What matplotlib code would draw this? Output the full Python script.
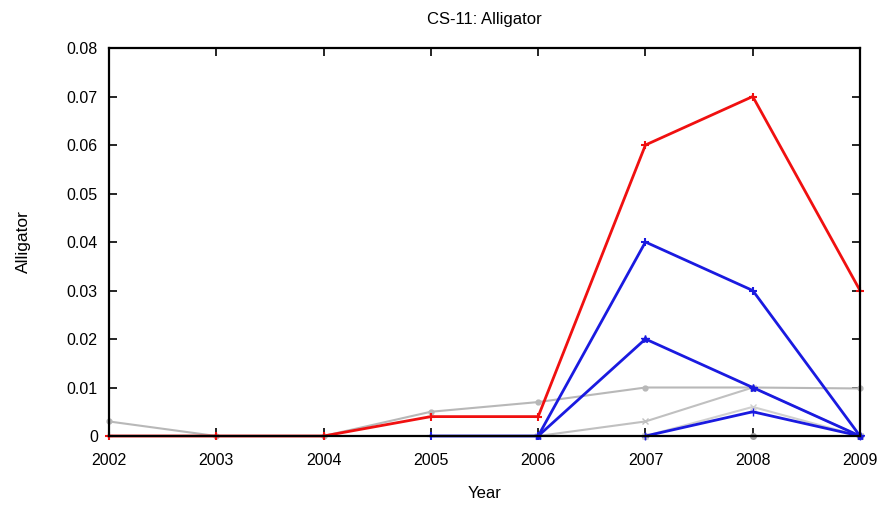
"""CS-11 Alligator by year"""
import numpy as np
import matplotlib
matplotlib.use('Agg')
import matplotlib.pyplot as plt
from matplotlib.ticker import FuncFormatter

plt.rcParams['font.family'] = ['Liberation Sans', 'DejaVu Sans']

years = [2002, 2003, 2004, 2005, 2006, 2007, 2008, 2009]
nan = np.nan

# red series
red = [0, 0, 0, 0.004, 0.004, 0.06, 0.07, 0.03]
# blue series
blue_a = [nan, nan, nan, 0, 0, 0.04, 0.03, 0]
blue_b = [nan, nan, nan, nan, 0, 0.02, 0.01, 0]
blue_c = [nan, nan, nan, nan, nan, 0, 0.005, 0]
# gray series
gray_a = [0.003, 0, 0, 0.005, 0.007, 0.010, 0.010, 0.0098]
gray_b = [nan, nan, nan, nan, 0, 0.003, 0.010, 0]
gray_c = [nan, nan, nan, nan, nan, 0, 0.006, 0]
gray_d = [nan, nan, nan, nan, nan, 0, 0, 0]

fig = plt.figure(figsize=(8.81, 5.09), dpi=100)
ax = fig.add_axes([0.1237, 0.1434, 0.8525, 0.7623])

ax.plot(years, gray_d, color='#a0a0a0', lw=1.2, marker='o', ms=4, clip_on=False)
ax.plot(years, gray_c, color='#d0d0d0', lw=1.5, marker='x', ms=5, clip_on=False)
ax.plot(years, gray_b, color='#c0c0c0', lw=1.5, marker='x', ms=5, clip_on=False)
ax.plot(years, gray_a, color='#b8b8b8', lw=1.5, marker='o', ms=3.5, clip_on=False)

ax.plot(years, blue_c, color='#1a1ae0', lw=2, marker='+', ms=6, clip_on=False)
ax.plot(years, blue_b, color='#1a1ae0', lw=2, marker='*', ms=6, clip_on=False)
ax.plot(years, blue_a, color='#1a1ae0', lw=2, marker='+', ms=6, mew=1.5, clip_on=False)

ax.plot(years, red, color='#f01010', lw=2, marker='+', ms=6, mew=1.5, clip_on=False)

ax.set_xlim(2002, 2009)
ax.set_ylim(0, 0.08)
ax.set_xticks(years)
ax.set_yticks(np.arange(0, 0.081, 0.01))
ax.yaxis.set_major_formatter(FuncFormatter(lambda v, p: '0' if abs(v) < 1e-9 else '%.2f' % v))

for s in ax.spines.values():
    s.set_linewidth(1.6)
ax.tick_params(direction='in', length=6, width=1.2, top=True, right=True,
               labelsize=11.5)
ax.tick_params(axis='x', pad=12)
ax.tick_params(axis='y', pad=8)

ax.set_title('CS-11: Alligator', fontsize=12, pad=17)
ax.set_xlabel('Year', fontsize=12, labelpad=13)
ax.set_ylabel('Alligator', fontsize=12.5, labelpad=26)

plt.savefig('out.png', dpi=100)
